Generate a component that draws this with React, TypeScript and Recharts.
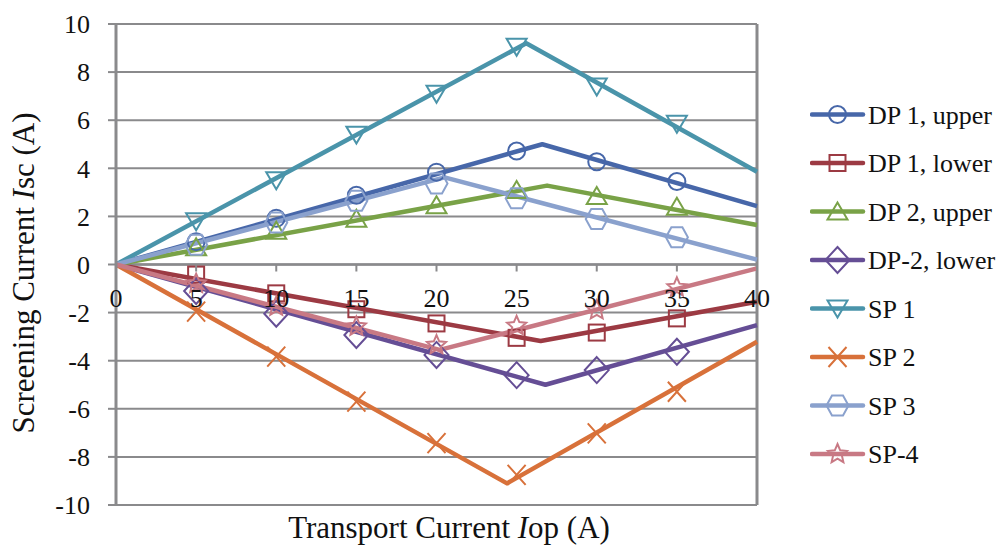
import { ComposedChart, Line, Scatter, XAxis, YAxis, CartesianGrid, ReferenceLine } from 'recharts';

// axis ticks
const xTicks = [0, 5, 10, 15, 20, 25, 30, 35, 40];
const yTicks = [-10, -8, -6, -4, -2, 0, 2, 4, 6, 8, 10];

// transport current steps where the screening current was measured (A)
const measuredAt = [5, 10, 15, 20, 25, 30, 35];

// measured screening current (A)
const dp1Upper = [0.95, 1.92, 2.88, 3.84, 4.72, 4.27, 3.45];
const dp1Lower = [-0.42, -1.2, -1.86, -2.45, -3.05, -2.83, -2.24];
const dp2Upper = [0.72, 1.4, 1.9, 2.46, 3.1, 2.85, 2.4];
const dp2Lower = [-1.1, -2.05, -2.93, -3.76, -4.6, -4.39, -3.63];
const sp1 = [1.8, 3.5, 5.4, 7.1, 9.05, 7.4, 5.85];
const sp2 = [-1.96, -3.83, -5.7, -7.43, -8.75, -7.02, -5.29];
const sp3 = [0.82, 1.75, 2.65, 3.37, 2.75, 1.89, 1.13];
const sp4 = [-0.8, -1.75, -2.58, -3.35, -2.55, -1.9, -0.95];

// calculated curves: origin, turning point, end of sweep  [Iop, Isc]
const dp1UpperCalc = [[0, 0], [26.6, 5.0], [40, 2.43]];
const dp1LowerCalc = [[0, 0], [26.5, -3.18], [40, -1.55]];
const dp2UpperCalc = [[0, 0], [26.9, 3.28], [40, 1.64]];
const dp2LowerCalc = [[0, 0], [26.8, -5.0], [40, -2.52]];
const sp1Calc = [[0, 0], [25.6, 9.2], [40, 3.86]];
const sp2Calc = [[0, 0], [24.4, -9.1], [40, -3.21]];
const sp3Calc = [[0, 0], [20.5, 3.62], [40, 0.2]];
const sp4Calc = [[0, 0], [20.2, -3.55], [40, -0.16]];

type MarkerKind = 'circle' | 'square' | 'triangle' | 'diamond' | 'triangleDown' | 'cross' | 'hexagon' | 'star';

const series: { name: string; color: string; marker: MarkerKind; measured: number[]; calc: number[][] }[] = [
  { name: 'DP 1, upper', color: '#4767a9', marker: 'circle', measured: dp1Upper, calc: dp1UpperCalc },
  { name: 'DP 1, lower', color: '#9c3a43', marker: 'square', measured: dp1Lower, calc: dp1LowerCalc },
  { name: 'DP 2, upper', color: '#79a247', marker: 'triangle', measured: dp2Upper, calc: dp2UpperCalc },
  { name: 'DP-2, lower', color: '#654e95', marker: 'diamond', measured: dp2Lower, calc: dp2LowerCalc },
  { name: 'SP 1', color: '#4a94aa', marker: 'triangleDown', measured: sp1, calc: sp1Calc },
  { name: 'SP 2', color: '#d8713a', marker: 'cross', measured: sp2, calc: sp2Calc },
  { name: 'SP 3', color: '#8aa1cd', marker: 'hexagon', measured: sp3, calc: sp3Calc },
  { name: 'SP-4', color: '#c87984', marker: 'star', measured: sp4, calc: sp4Calc },
];

const W = 1001;
const H = 548;
const MARGIN = { top: 24, right: 244, left: 0, bottom: 0 };
const X_AXIS_H = 43;
const PLOT_H = H - MARGIN.top - X_AXIS_H;
const AXIS = '#8a8a8c';
const FONT = '"Liberation Serif", "DejaVu Serif", "Times New Roman", Times, serif';
const textStyle = { fontFamily: FONT };

function Marker({ kind, cx, cy, color }: { kind: MarkerKind; cx: number; cy: number; color: string }) {
  const s = { fill: 'none', stroke: color, strokeWidth: 2 };
  switch (kind) {
    case 'circle':
      return <circle cx={cx} cy={cy} r={8.5} {...s} />;
    case 'square':
      return <rect x={cx - 8} y={cy - 8} width={16} height={16} {...s} />;
    case 'triangle':
      return <polygon points={`${cx},${cy - 9} ${cx + 10},${cy + 8} ${cx - 10},${cy + 8}`} {...s} />;
    case 'triangleDown':
      return <polygon points={`${cx - 10},${cy - 8} ${cx + 10},${cy - 8} ${cx},${cy + 9}`} {...s} />;
    case 'diamond':
      return <polygon points={`${cx},${cy - 13} ${cx + 12},${cy} ${cx},${cy + 13} ${cx - 12},${cy}`} {...s} />;
    case 'cross':
      return <path d={`M${cx - 9},${cy - 10}L${cx + 9},${cy + 10}M${cx + 9},${cy - 10}L${cx - 9},${cy + 10}`} {...s} />;
    case 'hexagon':
      return (
        <polygon
          points={`${cx - 11},${cy} ${cx - 5.5},${cy - 10} ${cx + 5.5},${cy - 10} ${cx + 11},${cy} ${cx + 5.5},${cy + 10} ${cx - 5.5},${cy + 10}`}
          {...s}
        />
      );
    case 'star': {
      const pts: string[] = [];
      for (let i = 0; i < 10; i++) {
        const r = i % 2 === 0 ? 10 : 4.6;
        const a = -Math.PI / 2 + (i * Math.PI) / 5;
        pts.push(`${cx + r * Math.cos(a)},${cy + r * Math.sin(a)}`);
      }
      return <polygon points={pts.join(' ')} {...s} />;
    }
  }
  return null;
}

// the category axis crosses the value axis at Isc = 0, half-way up the plot
function CrossingTick(props: any) {
  const { x, y, payload } = props;
  const y0 = y - PLOT_H / 2;
  return (
    <g>
      <line x1={x} x2={x} y1={y0} y2={y0 + 7} stroke={AXIS} strokeWidth={2} />
      <text x={x} y={y0 + 42} textAnchor="middle" style={textStyle} fontSize={26} fill="#111">
        {payload.value}
      </text>
    </g>
  );
}

function Legend() {
  return (
    <svg width={191} height={H} style={{ position: 'absolute', left: 810, top: 0 }}>
      {series.map((s, i) => {
        const y = 114.5 + i * 48.5;
        return (
          <g key={s.name}>
            <line x1={2} x2={53} y1={y} y2={y} stroke={s.color} strokeWidth={4.5} strokeLinecap="round" />
            <Marker kind={s.marker} cx={27.5} cy={y} color={s.color} />
            <text x={58} y={y + 9} style={textStyle} fontSize={26} fill="#111">
              {s.name}
            </text>
          </g>
        );
      })}
    </svg>
  );
}

export default function App() {
  return (
    <div
      style={{
        position: 'absolute',
        left: 0,
        top: 0,
        width: W,
        height: H,
        overflow: 'hidden',
        background: '#fff',
        fontFamily: FONT,
      }}
    >
      <ComposedChart width={W} height={H} margin={MARGIN}>
        <CartesianGrid vertical={false} stroke={AXIS} strokeWidth={2} />
        <XAxis
          type="number"
          dataKey="x"
          domain={[0, 40]}
          ticks={xTicks}
          height={X_AXIS_H}
          axisLine={false}
          tickLine={false}
          tickSize={0}
          tickMargin={0}
          tick={CrossingTick}
          interval={0}
          label={{
            content: () => (
              <text x={449} y={538} textAnchor="middle" style={textStyle} fontSize={31} fill="#111">
                Transport Current <tspan fontStyle="italic">I</tspan>op (A)
              </text>
            ),
          }}
        />
        <YAxis
          type="number"
          dataKey="y"
          domain={[-10, 10]}
          ticks={yTicks}
          width={116}
          interval={0}
          axisLine={{ stroke: AXIS, strokeWidth: 3 }}
          tickLine={{ stroke: AXIS, strokeWidth: 2 }}
          tickSize={8}
          tickMargin={18}
          tick={{ fontFamily: FONT, fontSize: 26, fill: '#111', style: textStyle }}
          label={{
            content: () => (
              <text
                x={34}
                y={273}
                transform="rotate(-90 34 273)"
                textAnchor="middle"
                style={textStyle}
                fontSize={31}
                fill="#111"
              >
                Screening Current <tspan fontStyle="italic">I</tspan>sc (A)
              </text>
            ),
          }}
        />
        <ReferenceLine y={10} stroke={AXIS} strokeWidth={2} />
        <ReferenceLine y={-10} stroke={AXIS} strokeWidth={2} />
        <ReferenceLine x={40} stroke={AXIS} strokeWidth={3} />
        <ReferenceLine y={0} stroke={AXIS} strokeWidth={2.5} />
        {series.map((s) => (
          <Line
            key={`${s.name}-calc`}
            data={s.calc.map(([x, y]) => ({ x, y }))}
            dataKey="y"
            type="linear"
            stroke={s.color}
            strokeWidth={4.5}
            strokeLinejoin="round"
            dot={false}
            activeDot={false}
            isAnimationActive={false}
          />
        ))}
        {series.map((s) => (
          <Scatter
            key={`${s.name}-meas`}
            data={measuredAt.map((x, i) => ({ x, y: s.measured[i] }))}
            dataKey="y"
            isAnimationActive={false}
            shape={(p: any) => <Marker kind={s.marker} cx={p.cx} cy={p.cy} color={s.color} />}
          />
        ))}
      </ComposedChart>
      <Legend />
    </div>
  );
}
